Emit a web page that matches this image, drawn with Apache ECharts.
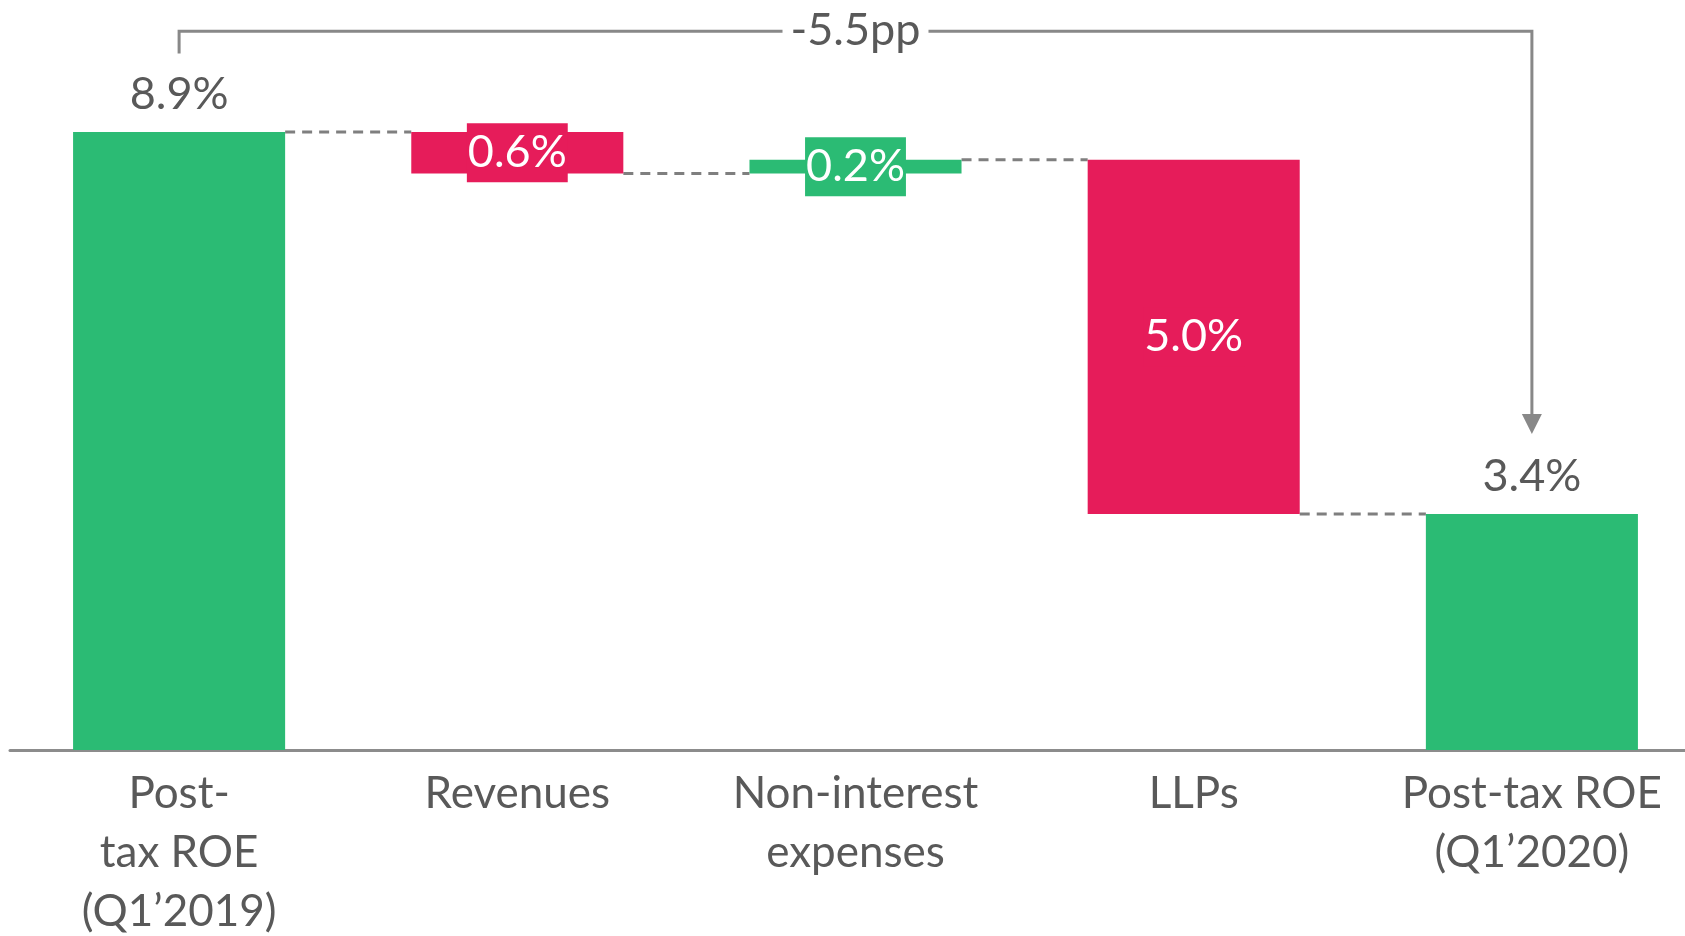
<!DOCTYPE html>
<html lang="en" style="height: 100%">
<head>
  <meta charset="utf-8">
</head>
<body style="height: 100%; margin: 0">
  <div id="container" style="height: 100%"></div>

  <script type="text/javascript" src="https://cdn.jsdelivr.net/npm/echarts@6/dist/echarts.min.js"></script>

  <script type="text/javascript">
    // data
    var categories = ['Post-\ntax ROE\n(Q1\u20192019)', 'Revenues', 'Non-interest\nexpenses', 'LLPs', 'Post-tax ROE\n(Q1\u20192020)'];
    var barBottoms = [0, 8.3, 8.3, 3.4, 0];
    var barTops = [8.9, 8.9, 8.5, 8.5, 3.4];
    var barLabels = ['8.9%', '0.6%', '0.2%', '5.0%', '3.4%'];
    var barKinds = ['total', 'down', 'up', 'down', 'total'];
    var connectorLevels = [8.9, 8.3, 8.5, 3.4];
    var changeLabel = '-5.5pp';

    var GREEN = '#2bbb74';
    var PINK = '#e61c5a';
    var TEXT = '#595959';
    var FONT = 'Lato';
    var BAR_RATIO = 0.627;

    var dom = document.getElementById('container');
    var myChart = echarts.init(dom, null, { renderer: 'canvas' });

    var baseData = barBottoms.slice();
    var barData = barTops.map(function (top, i) {
      var color = barKinds[i] === 'down' ? PINK : GREEN;
      var item = {
        value: +(top - barBottoms[i]).toFixed(2),
        itemStyle: { color: color }
      };
      if (barKinds[i] === 'total') {
        item.label = {
          show: true, position: 'top', distance: 15,
          formatter: barLabels[i], color: TEXT,
          fontSize: 45, fontFamily: FONT
        };
      } else {
        item.label = {
          show: true, position: 'inside',
          formatter: barLabels[i], color: '#fff',
          fontSize: 45, fontFamily: FONT,
          backgroundColor: color,
          padding: [5, 1, 3, 1], lineHeight: 51
        };
      }
      return item;
    });

    var option = {
      animation: false,
      grid: { left: 10, width: 1691, top: 0, bottom: 186, outerBoundsMode: 'none', containLabel: false },
      xAxis: {
        type: 'category',
        data: categories,
        axisLine: { lineStyle: { color: '#8c8c8c', width: 3 } },
        axisTick: { show: false },
        axisLabel: {
          color: TEXT, fontSize: 44, fontFamily: FONT,
          lineHeight: 59, margin: 14, interval: 0
        }
      },
      yAxis: {
        type: 'value', min: 0, max: 10.8,
        show: false, splitLine: { show: false }
      },
      series: [
        {
          type: 'bar', stack: 'wf', data: baseData,
          barWidth: (BAR_RATIO * 100) + '%',
          itemStyle: { color: 'transparent' },
          silent: true
        },
        {
          type: 'bar', stack: 'wf', data: barData,
          barWidth: (BAR_RATIO * 100) + '%'
        },
        {
          // dashed connectors between bars
          type: 'custom',
          data: connectorLevels.map(function (v, i) { return [i, v]; }),
          renderItem: function (params, api) {
            var i = api.value(0);
            var p = api.coord([i, api.value(1)]);
            var q = api.coord([i + 1, api.value(1)]);
            var half = api.size([1, 0])[0] * BAR_RATIO / 2;
            return {
              type: 'line',
              shape: { x1: p[0] + half, y1: p[1], x2: q[0] - half, y2: q[1] },
              style: { stroke: '#7f7f7f', lineWidth: 3, lineDash: [10, 7] }
            };
          },
          z: 1
        },
        {
          // bracket with arrow from first to last bar
          type: 'custom',
          data: [[0, 4]],
          renderItem: function (params, api) {
            var a = api.coord([api.value(0), 10.35]);
            var b = api.coord([api.value(1), 10.35]);
            var leftEnd = api.coord([0, 10.03])[1];
            var tip = api.coord([4, 4.55])[1];
            var mid = (a[0] + b[0]) / 2;
            var stroke = { stroke: '#888', lineWidth: 3, fill: null };
            return {
              type: 'group',
              children: [
                { type: 'polyline', shape: { points: [[a[0], leftEnd], [a[0], a[1]], [b[0], b[1]], [b[0], tip - 18]] }, style: stroke },
                { type: 'polygon', shape: { points: [[b[0] - 10, tip - 20], [b[0] + 10, tip - 20], [b[0], tip]] }, style: { fill: '#888' } },
                {
                  type: 'text',
                  style: {
                    text: changeLabel, x: mid, y: a[1] - 1,
                    align: 'center', verticalAlign: 'middle',
                    fill: TEXT, fontSize: 45, fontFamily: FONT,
                    backgroundColor: '#fff', padding: [0, 8]
                  },
                  z2: 10
                }
              ]
            };
          },
          z: 3
        }
      ]
    };

    myChart.setOption(option);

    window.addEventListener('resize', function () {
      myChart.resize();
    });
  </script>
</body>
</html>
